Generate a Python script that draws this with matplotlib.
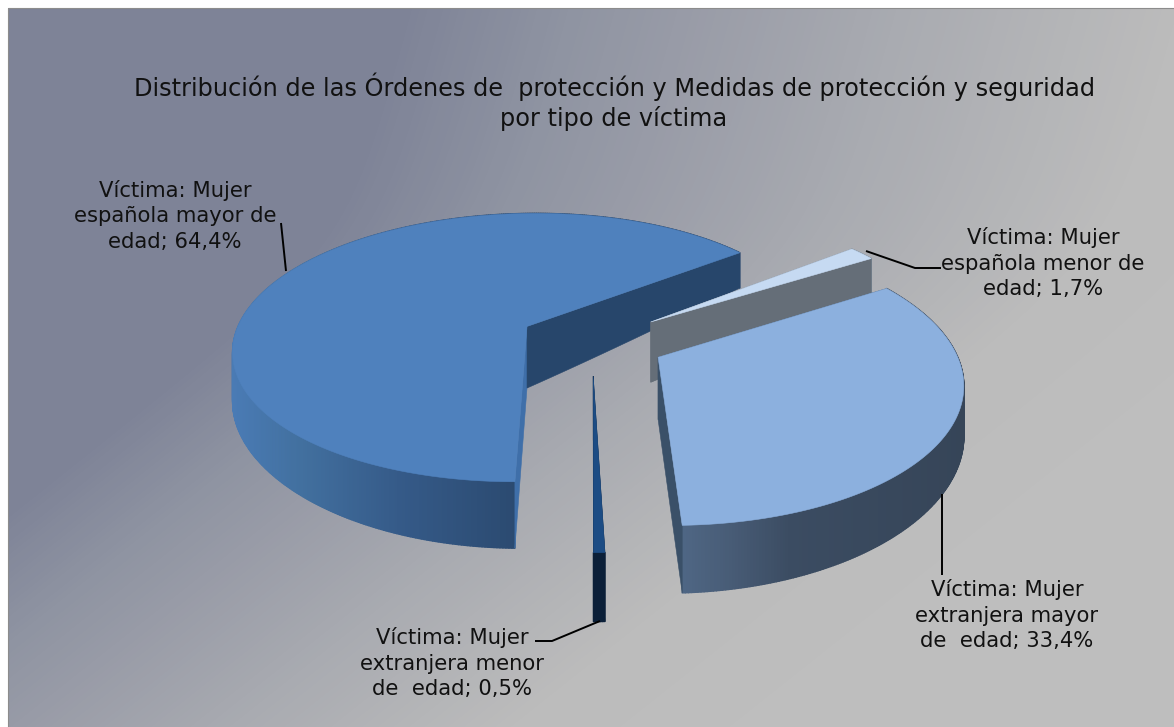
import numpy as np
import matplotlib
matplotlib.use("Agg")
import matplotlib.pyplot as plt
from matplotlib.collections import PolyCollection
from matplotlib.colors import LinearSegmentedColormap, to_rgb
from matplotlib.patches import Polygon

categories = ["Víctima: Mujer\nespañola mayor de\nedad; 64,4%",
              "Víctima: Mujer\nespañola menor de\nedad; 1,7%",
              "Víctima: Mujer\nextranjera mayor\nde  edad; 33,4%",
              "Víctima: Mujer\nextranjera menor\nde  edad; 0,5%"]
values = [64.4, 1.7, 33.4, 0.5]
title = "Distribución de las Órdenes de  protección y Medidas de protección y seguridad\npor tipo de víctima"
top_colors = ["#4F81BD", "#C6DAF2", "#8CB0DE", "#1C4C84"]
face_colors = ["#27466B", "#656E78", "#3A5068", "#0B1F38"]
start_face_colors = ["#3F6FA9", "#656E78", "#3A5068", "#0B1F38"]
wall_stops = [([232, 300, 400, 518], ["#4A7BB5", "#42709F", "#355A88", "#2B4A70"]),
              ([850, 880], ["#8090A0", "#8090A0"]),
              ([680, 730, 790, 964], ["#4F6785", "#485C76", "#3B4C62", "#364558"]),
              ([590, 610], ["#0B1F38", "#0B1F38"])]
draw_order = [0, 3, 1, 2]
label_xy = [(175, 216), (1043, 263), (1007, 615), (452, 663)]
leaders = [[(281, 223), (286, 271)],
           [(866, 251), (915, 268), (941, 268)],
           [(942, 494), (942, 575)],
           [(535, 641), (552, 641), (600, 621)]]

W, H = 1174, 727
CX, CY, F, B, A, EXPLODE, START = 592, 341, 294, 135.5, 0.16, 0.25, 180.0

fig = plt.figure(figsize=(W / 100, H / 100), dpi=100, facecolor="white")
ax = fig.add_axes([0, 0, 1, 1])
ax.axis("off")

# background gradient: soft maximum of two linear ramps
yy, xx = np.mgrid[8:H, 8:W]
ramp1 = xx + 0.27 * yy
ramp2 = xx + 1.26 * yy - 246
t = 40 * np.logaddexp(ramp1 / 40, ramp2 / 40) / 2000
t = np.clip(t, 0, 1)
bg_stops = [(0, "#7E8397"), (400 / 2000, "#7E8397"), (570 / 2000, "#8F94A2"), (680 / 2000, "#989BA7"),
            (900 / 2000, "#A9ABB1"), (1180 / 2000, "#BCBCBC"), (1400 / 2000, "#BEBEBE"), (1, "#BEBEBE")]
cmap = LinearSegmentedColormap.from_list("bg", bg_stops)
ax.imshow(t, cmap=cmap, vmin=0, vmax=1, extent=(8, W, H, 8), aspect="auto", zorder=0, interpolation="bilinear")
ax.plot([8, 8, W], [H, 8, 8], color="#8C8C8C", lw=0.8, zorder=1)
ax.set_xlim(0, W)
ax.set_ylim(H, 0)


def project(u, v):
    d = 1 - A * v
    return CX + F * u / d, CY + B * v / d


def depth(u, v):
    u, v = np.asarray(u, float), np.asarray(v, float)
    return (62 + 5.5 * np.maximum(v, 0) - 42 * np.maximum(-v - 0.11, 0)
            - 9.3 * u ** 2 * np.clip(1 + v, 0, 1))


def top_bottom(u, v):
    x, y = project(u, v)
    return np.column_stack([x, y]), np.column_stack([x, y + depth(u, v)])


bounds = START + 360 * np.concatenate([[0], np.cumsum(values)]) / np.sum(values)
for i in draw_order:
    a0, a1 = np.radians(bounds[i]), np.radians(bounds[i + 1])
    mid = (a0 + a1) / 2
    ox, oy = EXPLODE * np.sin(mid), -EXPLODE * np.cos(mid)
    th = np.linspace(a0, a1, max(int(np.degrees(a1 - a0) * 2), 6))
    ru, rv = ox + np.sin(th), oy - np.cos(th)
    rim_top, rim_bot = top_bottom(ru, rv)
    s = np.linspace(0, 1, 30)

    # outer wall with a gradient along the rim
    quads = [np.vstack([rim_top[k], rim_top[k + 1], rim_bot[k + 1], rim_bot[k]]) for k in range(len(th) - 1)]
    xm = (rim_top[:-1, 0] + rim_top[1:, 0]) / 2
    sx, sc = wall_stops[i]
    rgb = np.array([to_rgb(c) for c in sc])
    cols = np.column_stack([np.interp(xm, sx, rgb[:, j]) for j in range(3)])
    ax.add_collection(PolyCollection(quads, facecolors=cols, edgecolors=cols, linewidths=1.0, zorder=3))

    # radial faces
    for ang, col in ((a0, start_face_colors[i]), (a1, face_colors[i])):
        fu, fv = ox + s * np.sin(ang), oy - s * np.cos(ang)
        ft, fb = top_bottom(fu, fv)
        ax.add_patch(Polygon(np.vstack([ft, fb[::-1]]), closed=True, fc=col, ec=col, lw=0.4, zorder=3))

    # top surface
    apex = np.array(project(ox, oy))
    ax.add_patch(Polygon(np.vstack([apex, rim_top]), closed=True, fc=top_colors[i], ec=top_colors[i], lw=0.4, zorder=3))

for pts in leaders:
    px, py = zip(*pts)
    ax.plot(px, py, color="black", lw=1.4, zorder=4, solid_capstyle="butt")

ax.text(614, 101.5, title, ha="center", va="center", fontsize=17.3, color="#111111", linespacing=1.26, zorder=5)
for lab, (lx, ly) in zip(categories, label_xy):
    ax.text(lx, ly, lab, ha="center", va="center", fontsize=15.2, color="#111111", linespacing=1.35, zorder=5)

fig.savefig("out.png", dpi=100, facecolor="white")
